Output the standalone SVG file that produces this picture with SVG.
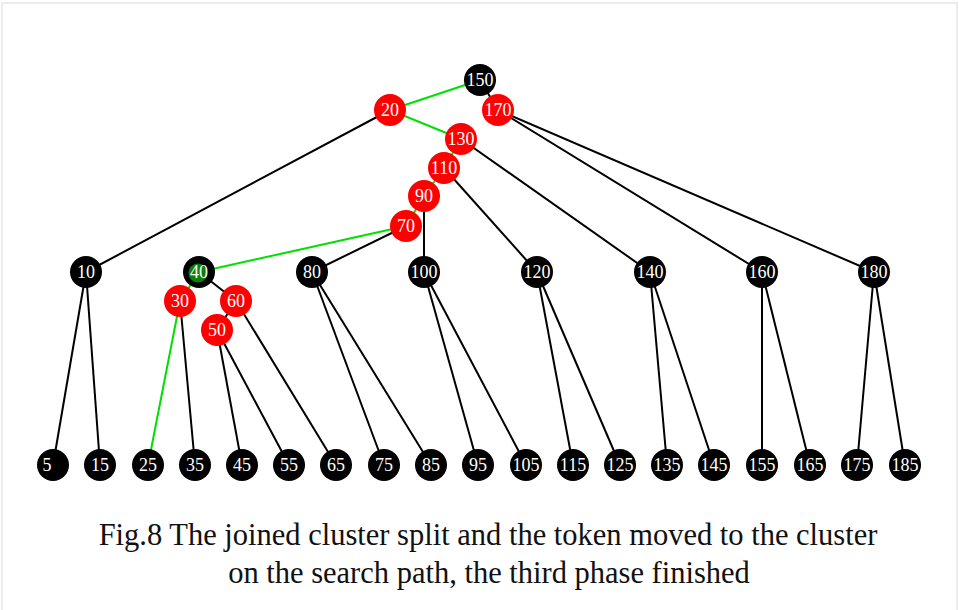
<svg xmlns="http://www.w3.org/2000/svg" width="959" height="610" viewBox="0 0 959 610">
<style>
  .e { stroke: #000; stroke-width: 2; fill: none; }
  .g { stroke: #00e000; stroke-width: 2; fill: none; }
  .b circle { fill: #000; }
  .r circle { fill: #f00; }
  .n text { font-family: "Liberation Serif", "Times New Roman", serif; fill: #fff; font-size: 18px; text-anchor: middle; dominant-baseline: central; }
  .cap { font-family: "Liberation Serif", "Times New Roman", serif; font-size: 30.5px; fill: #111; text-anchor: middle; }
</style>
<rect x="0" y="0" width="959" height="610" fill="#fff"/>
<rect x="2" y="3" width="955" height="610" fill="none" stroke="#ececec" stroke-width="2"/>

<g id="edges">
  <line class="g" x1="480" y1="80" x2="390" y2="110"/>
  <line class="e" x1="480" y1="80" x2="498" y2="110"/>
  <line class="e" x1="390" y1="110" x2="86" y2="272"/>
  <line class="g" x1="390" y1="110" x2="461" y2="139"/>
  <line class="e" x1="498" y1="110" x2="762" y2="272"/>
  <line class="e" x1="498" y1="110" x2="874" y2="272"/>
  <line class="g" x1="461" y1="139" x2="444" y2="168"/>
  <line class="e" x1="461" y1="139" x2="650" y2="272"/>
  <line class="g" x1="444" y1="168" x2="424" y2="196"/>
  <line class="e" x1="444" y1="168" x2="537" y2="272"/>
  <line class="g" x1="424" y1="196" x2="406" y2="226"/>
  <line class="e" x1="424" y1="196" x2="424" y2="272"/>
  <line class="g" x1="406" y1="226" x2="199" y2="272"/>
  <line class="e" x1="406" y1="226" x2="312" y2="272"/>
  <line class="g" x1="199" y1="272" x2="180" y2="301"/>
  <line class="e" x1="199" y1="272" x2="236" y2="301"/>
  <line class="g" x1="180" y1="301" x2="148" y2="465"/>
  <line class="e" x1="180" y1="301" x2="195" y2="465"/>
  <line class="e" x1="236" y1="301" x2="217" y2="330"/>
  <line class="e" x1="236" y1="301" x2="336" y2="465"/>
  <line class="e" x1="217" y1="330" x2="242" y2="465"/>
  <line class="e" x1="217" y1="330" x2="289" y2="465"/>
  <line class="e" x1="86" y1="272" x2="53" y2="465"/>
  <line class="e" x1="86" y1="272" x2="100" y2="465"/>
  <line class="e" x1="312" y1="272" x2="384" y2="465"/>
  <line class="e" x1="312" y1="272" x2="431" y2="465"/>
  <line class="e" x1="424" y1="272" x2="478" y2="465"/>
  <line class="e" x1="424" y1="272" x2="526" y2="465"/>
  <line class="e" x1="537" y1="272" x2="573" y2="465"/>
  <line class="e" x1="537" y1="272" x2="620" y2="465"/>
  <line class="e" x1="650" y1="272" x2="667" y2="465"/>
  <line class="e" x1="650" y1="272" x2="714" y2="465"/>
  <line class="e" x1="762" y1="272" x2="762" y2="465"/>
  <line class="e" x1="762" y1="272" x2="810" y2="465"/>
  <line class="e" x1="874" y1="272" x2="857" y2="465"/>
  <line class="e" x1="874" y1="272" x2="905" y2="465"/>
</g>

<g id="n150" class="n b"><circle cx="480" cy="80" r="16"/><text x="480" y="80">150</text></g>
<g id="n20" class="n r"><circle cx="390" cy="110" r="16"/><text x="390" y="110">20</text></g>
<g id="n170" class="n r"><circle cx="498" cy="110" r="16"/><text x="498" y="110">170</text></g>
<g id="n130" class="n r"><circle cx="461" cy="139" r="16"/><text x="461" y="139">130</text></g>
<g id="n110" class="n r"><circle cx="444" cy="168" r="16"/><text x="444" y="168">110</text></g>
<g id="n90" class="n r"><circle cx="424" cy="196" r="16"/><text x="424" y="196">90</text></g>
<g id="n70" class="n r"><circle cx="406" cy="226" r="16"/><text x="406" y="226">70</text></g>

<g id="n10" class="n b"><circle cx="86" cy="272" r="16"/><text x="86" y="272">10</text></g>
<g id="n40" class="n b"><circle cx="199" cy="272" r="16"/><circle cx="198" cy="273" r="9.5" style="fill:#0a800a"/><text x="199" y="272">40</text></g>
<g id="n80" class="n b"><circle cx="312" cy="272" r="16"/><text x="312" y="272">80</text></g>
<g id="n100" class="n b"><circle cx="424" cy="272" r="16"/><text x="424" y="272">100</text></g>
<g id="n120" class="n b"><circle cx="537" cy="272" r="16"/><text x="537" y="272">120</text></g>
<g id="n140" class="n b"><circle cx="650" cy="272" r="16"/><text x="650" y="272">140</text></g>
<g id="n160" class="n b"><circle cx="762" cy="272" r="16"/><text x="762" y="272">160</text></g>
<g id="n180" class="n b"><circle cx="874" cy="272" r="16"/><text x="874" y="272">180</text></g>

<g id="n30" class="n r"><circle cx="180" cy="301" r="16"/><text x="180" y="301">30</text></g>
<g id="n60" class="n r"><circle cx="236" cy="301" r="16"/><text x="236" y="301">60</text></g>
<g id="n50" class="n r"><circle cx="217" cy="330" r="16"/><text x="217" y="330">50</text></g>

<g id="n5" class="n b"><circle cx="53" cy="465" r="16"/><text x="47" y="465">5</text></g>
<g id="n15" class="n b"><circle cx="100" cy="465" r="16"/><text x="100" y="465">15</text></g>
<g id="n25" class="n b"><circle cx="148" cy="465" r="16"/><text x="148" y="465">25</text></g>
<g id="n35" class="n b"><circle cx="195" cy="465" r="16"/><text x="195" y="465">35</text></g>
<g id="n45" class="n b"><circle cx="242" cy="465" r="16"/><text x="242" y="465">45</text></g>
<g id="n55" class="n b"><circle cx="289" cy="465" r="16"/><text x="289" y="465">55</text></g>
<g id="n65" class="n b"><circle cx="336" cy="465" r="16"/><text x="336" y="465">65</text></g>
<g id="n75" class="n b"><circle cx="384" cy="465" r="16"/><text x="384" y="465">75</text></g>
<g id="n85" class="n b"><circle cx="431" cy="465" r="16"/><text x="431" y="465">85</text></g>
<g id="n95" class="n b"><circle cx="478" cy="465" r="16"/><text x="478" y="465">95</text></g>
<g id="n105" class="n b"><circle cx="526" cy="465" r="16"/><text x="526" y="465">105</text></g>
<g id="n115" class="n b"><circle cx="573" cy="465" r="16"/><text x="573" y="465">115</text></g>
<g id="n125" class="n b"><circle cx="620" cy="465" r="16"/><text x="620" y="465">125</text></g>
<g id="n135" class="n b"><circle cx="667" cy="465" r="16"/><text x="667" y="465">135</text></g>
<g id="n145" class="n b"><circle cx="714" cy="465" r="16"/><text x="714" y="465">145</text></g>
<g id="n155" class="n b"><circle cx="762" cy="465" r="16"/><text x="762" y="465">155</text></g>
<g id="n165" class="n b"><circle cx="810" cy="465" r="16"/><text x="810" y="465">165</text></g>
<g id="n175" class="n b"><circle cx="857" cy="465" r="16"/><text x="857" y="465">175</text></g>
<g id="n185" class="n b"><circle cx="905" cy="465" r="16"/><text x="905" y="465">185</text></g>

<text class="cap" x="488" y="545">Fig.8 The joined cluster split and the token moved to the cluster</text>
<text class="cap" x="489" y="583">on the search path, the third phase finished</text>
</svg>
